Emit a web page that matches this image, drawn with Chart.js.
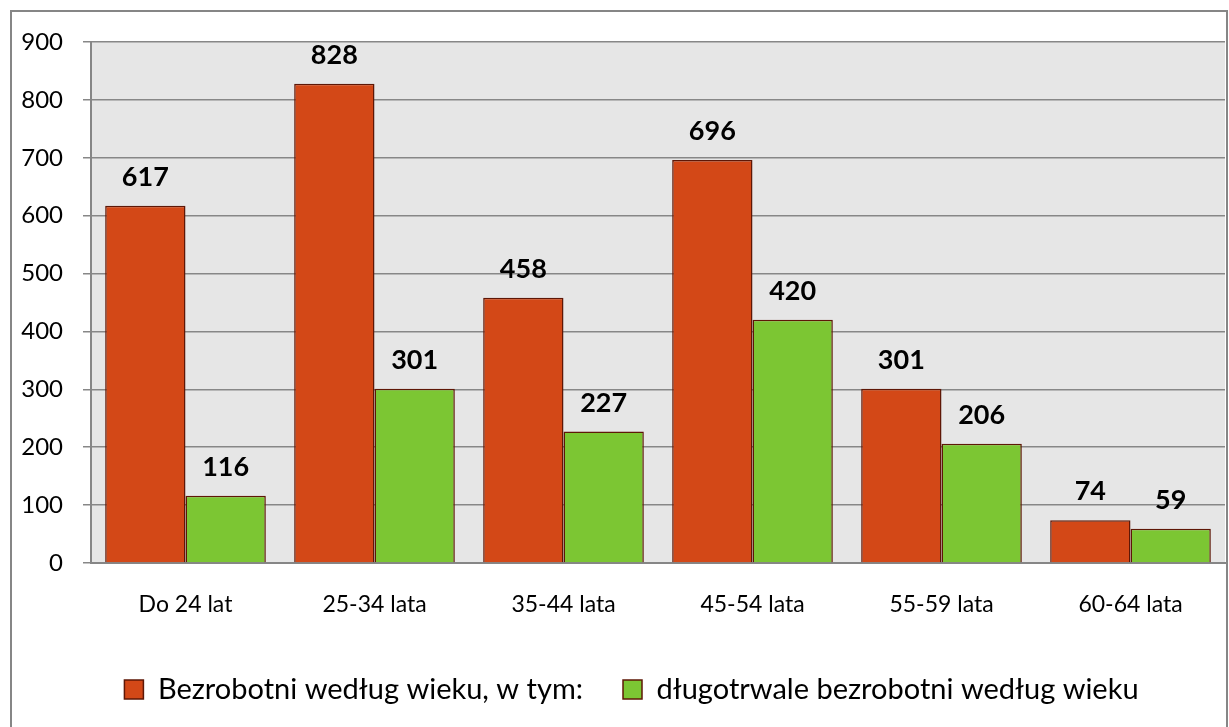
<!DOCTYPE html>
<html>
<head>
<meta charset="utf-8">
<script src="https://cdn.jsdelivr.net/npm/chart.js@4.4.0/dist/chart.umd.min.js"></script>
<style>
  body { margin: 0; background: #fff; }
  #wrap { position: relative; width: 1229px; height: 727px; }
</style>
</head>
<body>
<div id="wrap"><canvas id="myChart" width="1229" height="727"></canvas></div>
<script>
// data
const categories = ['Do 24 lat', '25-34 lata', '35-44 lata', '45-54 lata', '55-59 lata', '60-64 lata'];
const seriesNames = ['Bezrobotni według wieku, w tym:', 'długotrwale bezrobotni według wieku'];
const unemployed = [617, 828, 458, 696, 301, 74];
const longTerm = [116, 301, 227, 420, 206, 59];
const yTicks = [0, 100, 200, 300, 400, 500, 600, 700, 800, 900];

const FONT = 'Lato, "Liberation Sans", sans-serif';

// outer frame + grey plot background
const framePlugin = {
    id: 'frame',
    afterLayout(chart) {
        // legend sits a bit right of centre in the original
        chart.legend.left += 19;
        chart.legend.right += 19;
    },
    beforeDraw(chart) {
        let ctx = chart.ctx;
        let a = chart.chartArea;
        ctx.save();
        ctx.fillStyle = '#fff';
        ctx.fillRect(0, 0, chart.width, chart.height);
        ctx.fillStyle = '#e6e6e6';
        ctx.fillRect(a.left, a.top, a.right - a.left, a.bottom - a.top);
        ctx.strokeStyle = '#868686';
        ctx.lineWidth = 2;
        ctx.strokeRect(11, 11, chart.width - 13, chart.height + 20);
        ctx.restore();
    }
};

// bold value labels above every bar
const valueLabels = {
    id: 'valueLabels',
    afterDatasetsDraw(chart) {
        let ctx = chart.ctx;
        ctx.save();
        ctx.font = 'bold 27px ' + FONT;
        ctx.fillStyle = '#000';
        ctx.textAlign = 'center';
        ctx.textBaseline = 'alphabetic';
        chart.data.datasets.forEach((ds, i) => {
            chart.getDatasetMeta(i).data.forEach((bar, j) => {
                ctx.fillText(ds.data[j], bar.x, bar.y - 20);
            });
        });
        ctx.restore();
    }
};

var ctx = document.getElementById('myChart').getContext('2d');
var myChart = new Chart(ctx, {
    type: 'bar',
    data: {
        labels: categories,
        datasets: [{
            label: seriesNames[0],
            data: unemployed,
            backgroundColor: '#d34817',
            borderColor: '#5e1706',
            borderWidth: 1.5,
            borderSkipped: 'bottom'
        }, {
            label: seriesNames[1],
            data: longTerm,
            backgroundColor: '#7cc633',
            borderColor: '#5e1706',
            borderWidth: 1.5,
            borderSkipped: 'bottom'
        }]
    },
    options: {
        responsive: false,
        animation: false,
        layout: { padding: { left: 0, right: 4, top: 42, bottom: 13 } },
        datasets: { bar: { categoryPercentage: 0.85, barPercentage: 1.0 } },
        scales: {
            x: {
                grid: { display: false, drawTicks: true, tickLength: 8, offset: true, color: '#868686' },
                border: { color: '#868686', width: 2 },
                ticks: { color: '#000', font: { family: FONT, size: 23 }, padding: 20 },
                afterFit(scale) { scale.height = 72; }
            },
            y: {
                min: 0,
                max: 900,
                afterBuildTicks(scale) { scale.ticks = yTicks.map(v => ({ value: v })); },
                grid: { color: '#878787', lineWidth: 1.5, tickLength: 8 },
                border: { color: '#868686', width: 2 },
                ticks: { color: '#000', font: { family: FONT, size: 24 }, padding: 20 },
                afterFit(scale) { scale.width = 91; }
            }
        },
        plugins: {
            legend: {
                position: 'bottom',
                labels: {
                    color: '#000',
                    font: { family: FONT, size: 29 },
                    boxWidth: 19,
                    boxHeight: 19,
                    padding: 40
                }
            },
            tooltip: { enabled: false }
        }
    },
    plugins: [framePlugin, valueLabels]
});
</script>
</body>
</html>
